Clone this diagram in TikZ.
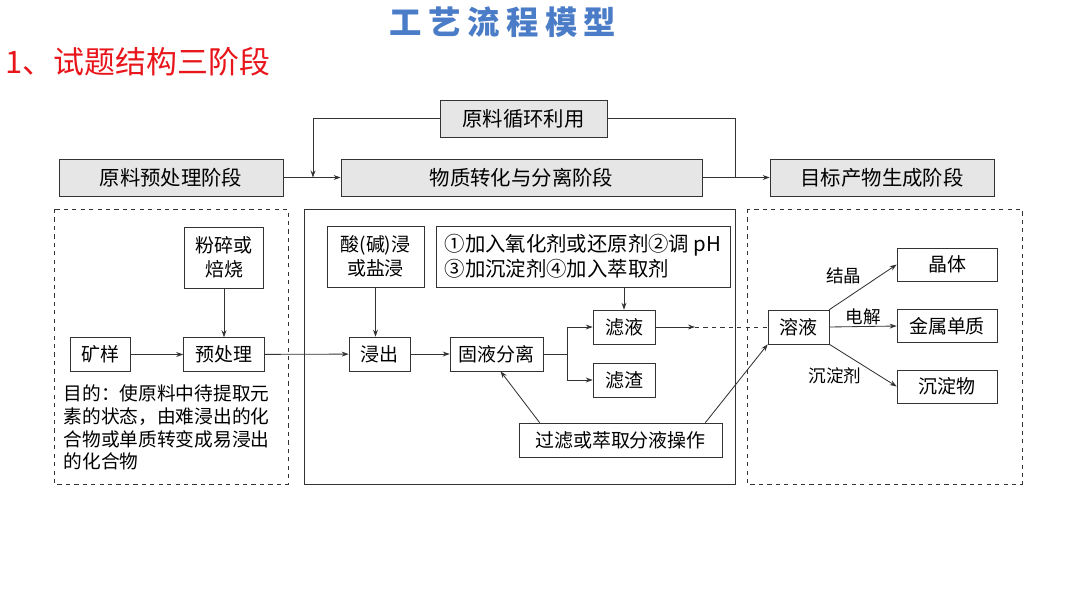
\documentclass[tikz,border=0pt]{standalone}
\usepackage{fontspec}
\setmainfont{Noto Sans CJK SC}
\usepackage{tikz}
\usetikzlibrary{positioning, arrows.meta}

\definecolor{titleblue}{HTML}{4A7CC7}
\definecolor{headred}{HTML}{E8161B}
\definecolor{linegray}{HTML}{333333}
\definecolor{stagefill}{HTML}{E6E6E6}

\begin{document}
\begin{tikzpicture}[
    x=0.025cm, y=-0.025cm,
    >={Stealth[length=5pt, width=3.5pt]},
    every node/.style={inner sep=1pt},
    stage/.style={
        draw=linegray,
        fill=stagefill,
        minimum height=0.925cm,
        font=\fontsize{14.5}{16}\selectfont
    },
    box/.style={
        draw=linegray,
        fill=white,
        minimum height=0.85cm,
        align=center,
        font=\fontsize{13.5}{17}\selectfont
    },
    tall/.style={
        box,
        minimum height=1.525cm
    },
    lbl/.style={
        font=\fontsize{12.5}{14}\selectfont
    },
    conn/.style={draw=linegray, line width=0.6pt},
    region/.style={draw=linegray, line width=0.6pt}
]
\useasboundingbox (0,0) rectangle (1080,608);

% headings
\node[font=\fontsize{23}{25}\selectfont\bfseries\addfontfeature{LetterSpace=20}, text=titleblue] (title) at (503,22) {工艺流程模型};
\node[font=\fontsize{22}{24}\selectfont, text=headred, anchor=west] (head) at (4,62) {1、试题结构三阶段};

% stage row
\node[stage, minimum width=4.175cm] (cycle) at (523.5,118.5) {原料循环利用};
\node[stage, minimum width=5.6cm] (pre) at (171,177.5) {原料预处理阶段};
\node[stage, minimum width=9.025cm] (conv) at (521.5,177.5) {物质转化与分离阶段};
\node[stage, minimum width=5.6cm] (goal) at (882,177.5) {目标产物生成阶段};
\coordinate (j1) at (313,177.5);
\coordinate (j2) at (735,177.5);

% regions
\draw[region, dashed] (54,209) rectangle (288,484);
\draw[region] (304,209) rectangle (735,484);
\draw[region, dashed] (747,209) rectangle (1022,484);

% pretreatment stage
\node[tall, minimum width=1.975cm] (crush) at (224,257.5) {粉碎或\\焙烧};
\node[box, minimum width=1.5cm] (ore) at (100,354.5) {矿样};
\node[box, minimum width=2.025cm] (pretreat) at (224,354.5) {预处理};
\node[align=left, anchor=north west, font=\fontsize{13.3}{16.2}\selectfont] (aim) at (62,383)
    {目的：使原料中待提取元\\素的状态，由难浸出的化\\合物或单质转变成易浸出\\的化合物};

% conversion stage
\node[tall, minimum width=2.425cm] (acid) at (375.5,256.5) {酸(碱)浸\\或盐浸};
\node[tall, minimum width=7.35cm, align=left, font=\fontsize{14.5}{18}\selectfont] (ops) at (583,256.5) {①加入氧化剂或还原剂②调 pH\\③加沉淀剂④加入萃取剂};
\node[box, minimum width=1.525cm] (leach) at (379.5,354) {浸出};
\node[box, minimum width=2.325cm] (sep) at (496.5,354) {固液分离};
\node[box, minimum width=1.55cm] (filtrate) at (624,327) {滤液};
\node[box, minimum width=1.55cm] (residue) at (624,380) {滤渣};
\node[box, minimum width=5.075cm] (filt) at (620.5,440) {过滤或萃取分液操作};
\coordinate (br) at (567,354);
\coordinate (fm) at (695,327);

% product stage
\node[box, minimum width=1.525cm] (sol) at (798.5,327) {溶液};
\node[box, minimum width=2.5cm, minimum height=0.825cm] (crystal) at (947,264.5) {晶体};
\node[box, minimum width=2.5cm, minimum height=0.825cm] (metal) at (947,326) {金属单质};
\node[box, minimum width=2.5cm, minimum height=0.825cm] (precip) at (947,386.5) {沉淀物};

% connections
\draw[conn, ->] (pre) -- (conv);
\draw[conn, ->] (cycle.west) -| (j1);
\draw[conn] (cycle.east) -| (j2);
\draw[conn, ->] (conv) -- (goal);

\draw[conn, ->] (crush) -- (pretreat);
\draw[conn, ->] (ore) -- (pretreat);
\draw[conn, ->] (pretreat) -- (leach);

\draw[conn, ->] (acid.south) -- (acid.south |- leach.north);
\draw[conn, ->] (leach) -- (sep);
\draw[conn, ->] (filtrate.north |- ops.south) -- (filtrate.north);
\draw[conn] (sep.east) -- (br);
\draw[conn, ->] (br) |- (filtrate.west);
\draw[conn, ->] (br) |- (residue.west);
\draw[conn, ->] (filtrate) -- (fm);
\draw[conn, dashed] (fm) -- (sol.west);
\draw[conn, ->] ([xshift=0.525cm]filt.north west) -- ([xshift=0.1cm]sep.south);
\draw[conn, ->] ([xshift=-0.425cm]filt.north east) -- (sol.south west);

\draw[conn, ->] (sol.north east) -- node[lbl, pos=0.5, above left, yshift=1pt] {结晶} (crystal.west);
\draw[conn, ->] (sol.east) -- node[lbl, midway, above] {电解} (metal.west);
\draw[conn, ->] (sol.south east) -- node[lbl, pos=0.5, below left] {沉淀剂} (precip.west);
\end{tikzpicture}
\end{document}
